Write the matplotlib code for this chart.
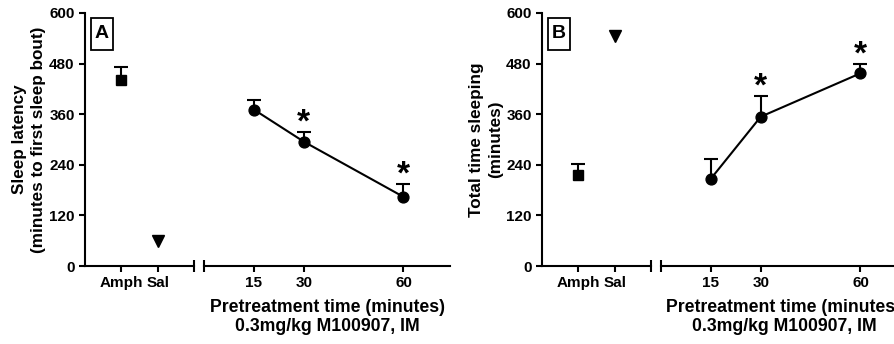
import numpy as np
import matplotlib
matplotlib.use("Agg")
import matplotlib.pyplot as plt
from matplotlib.patches import Rectangle

plt.rcParams['font.family'] = ['Liberation Sans', 'DejaVu Sans']
plt.rcParams['font.weight'] = 'bold'

# control groups (left segment)
ctrl_labels = ['Amph', 'Sal']
ctrl_markers = ['s', 'v']
ctrl_sizes = [7.8, 9.0]

# panel A: sleep latency
a_ctrl = [440, 60]
a_ctrl_err = [33, 0]
a_times = [15, 30, 60]
a_vals = [371, 295, 164]
a_err = [23, 23, 30]
a_sig = [False, True, True]

# panel B: total time sleeping
b_ctrl = [216, 545]
b_ctrl_err = [25, 0]
b_times = [15, 30, 60]
b_vals = [207, 354, 457]
b_err = [47, 49, 22]
b_sig = [False, True, True]

W, H = 894, 344
fig = plt.figure(figsize=(W / 100, H / 100), dpi=100)

LW = 1.5


def px(x0, y0, w, h):
    return [x0 / W, (H - y0 - h) / H, w / W, h / H]


def style(ax):
    for s in ['top', 'right']:
        ax.spines[s].set_visible(False)
    for s in ['left', 'bottom']:
        ax.spines[s].set_linewidth(LW)
    ax.tick_params(width=LW, length=4, labelsize=11, direction='out')
    for lab in ax.get_xticklabels() + ax.get_yticklabels():
        lab.set_fontweight('bold')


def upper_err(ax, x, y, e):
    x = np.asarray(x, float)
    y = np.asarray(y, float)
    e = np.asarray(e, float)
    m = e > 0
    ax.vlines(x[m], y[m], y[m] + e[m], color='black', lw=LW, zorder=2)
    ax.plot(x[m], y[m] + e[m], ls='none', marker='_', ms=9.5, mew=LW,
            color='black', zorder=2)


def panel(x0, ylabel, letter, ctrl, ctrl_err, times, vals, err, sig):
    top, h = 13, 253
    axL = fig.add_axes(px(x0, top, 109, h))
    axR = fig.add_axes(px(x0 + 119, top, 246, h))

    # control groups
    pos = np.arange(1, len(ctrl) + 1)
    for p, v, mk, ms in zip(pos, ctrl, ctrl_markers, ctrl_sizes):
        axL.plot(p, v, marker=mk, ms=ms, color='black', ls='none', zorder=3)
    upper_err(axL, pos, ctrl, ctrl_err)
    axL.set_xlim(0, 3)
    axL.set_ylim(0, 600)
    axL.set_yticks(np.arange(0, 601, 120))
    axL.set_xticks(pos)
    axL.set_xticklabels(ctrl_labels)
    axL.set_xticks([3], minor=True)
    axL.tick_params(axis='x', which='minor', direction='inout', length=8, width=LW)
    axL.set_ylabel(ylabel, fontsize=12.3, fontweight='bold', labelpad=2,
                   linespacing=1.4)
    style(axL)

    # drug time course
    axR.plot(times, vals, color='black', lw=LW, marker='o', ms=7.8, zorder=3)
    upper_err(axR, times, vals, err)
    for t, v, e, s in zip(times, vals, err, sig):
        if s:
            axR.text(t, v + e + 22, '*', ha='center', va='center',
                     fontsize=24, fontweight='bold')
    axR.set_xlim(0, 74)
    axR.set_ylim(0, 600)
    axR.set_xticks(times)
    axR.set_xticks([0], minor=True)
    axR.tick_params(axis='x', which='minor', direction='inout', length=8, width=LW)
    axR.spines['left'].set_visible(False)
    axR.set_yticks([])
    axR.set_xlabel('Pretreatment time (minutes)\n0.3mg/kg M100907, IM',
                   fontsize=12.7, fontweight='bold', labelpad=6,
                   linespacing=1.15)
    style(axR)

    # boxed panel letter
    bx, by, bw, bh = x0 + 6, 18, 22, 32
    fig.patches.append(Rectangle((bx / W, 1 - (by + bh) / H), bw / W, bh / H,
                                 transform=fig.transFigure, fill=False,
                                 ec='black', lw=1.3))
    fig.text((bx + bw / 2) / W, 1 - (by + bh / 2) / H, letter, ha='center',
             va='center', fontsize=14, fontweight='bold')
    return axL, axR


panel(85, 'Sleep latency\n(minutes to first sleep bout)', 'A',
      a_ctrl, a_ctrl_err, a_times, a_vals, a_err, a_sig)
panel(542, 'Total time sleeping\n(minutes)', 'B',
      b_ctrl, b_ctrl_err, b_times, b_vals, b_err, b_sig)

fig.savefig('out.png', dpi=100)
